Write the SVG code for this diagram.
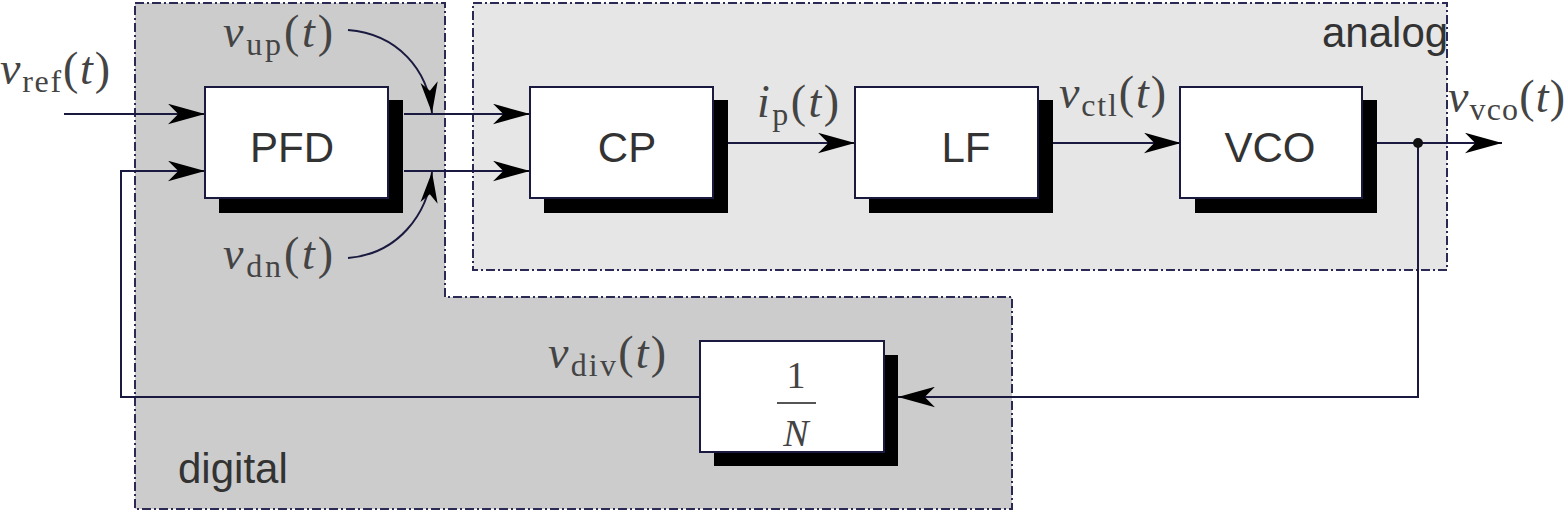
<svg xmlns="http://www.w3.org/2000/svg" width="1568" height="512" viewBox="0 0 1568 512">
<style>
.region{stroke:#2a2a55;stroke-width:2;stroke-dasharray:9 3 2 3}
.box{fill:#fff;stroke:#1a1a40;stroke-width:2}
.shadow{fill:#000}
.lbl{font-family:'Liberation Sans',Arial,sans-serif;font-size:42px;fill:#333;text-anchor:middle}
.reg{font-family:'Liberation Sans',Arial,sans-serif;font-size:42px;fill:#333}
.m{font-family:'Liberation Serif','Times New Roman',Times,serif;font-size:46px;fill:#444}
.i{font-style:italic}
.s{font-size:32px}
.wire{fill:none;stroke:#1a1a40;stroke-width:2}
</style>
<defs>
<marker id="arr" viewBox="0 0 36 20" refX="36" refY="10" markerWidth="37" markerHeight="21" orient="auto" markerUnits="userSpaceOnUse">
<path d="M0,0 L36,10 L0,20 L10,10 Z" fill="#000"/>
</marker>
<marker id="arr2" viewBox="0 0 36 20" refX="36" refY="10" markerWidth="31" markerHeight="18" orient="auto" markerUnits="userSpaceOnUse">
<path d="M0,0 L36,10 L0,20 L10,10 Z" fill="#000"/>
</marker>
</defs>

<g id="digital-region">
<path class="region" d="M135,3 H445 V297 H1012 V509 H135 Z" fill="#cccccc"/>
<text class="reg" x="178" y="483">digital</text>
</g>
<g id="analog-region">
<rect class="region" x="473" y="3" width="974" height="267" fill="#e6e6e6"/>
<text class="reg" x="1322" y="47">analog</text>
</g>

<g id="connectors">
<path class="wire" d="M64,114 H205" marker-end="url(#arr)"/>
<path class="wire" d="M404,114 H530" marker-end="url(#arr)"/>
<path class="wire" d="M404,171 H530" marker-end="url(#arr)"/>
<path class="wire" d="M727,143 H855" marker-end="url(#arr)"/>
<path class="wire" d="M1052,143 H1181" marker-end="url(#arr)"/>
<path class="wire" d="M1376,143 H1502" marker-end="url(#arr)"/>
<path class="wire" d="M1418,143 V397 H898" marker-end="url(#arr)"/>
<path class="wire" d="M700,397 H121 V171 H205" marker-end="url(#arr)"/>
<path class="wire" d="M348,30 C398,34 428,70 432,113" marker-end="url(#arr2)"/>
<path class="wire" d="M348,258 C398,254 428,214 432,172" marker-end="url(#arr2)"/>
<circle cx="1418" cy="143" r="5" fill="#111"/>
</g>

<g id="pfd">
<rect class="shadow" x="219" y="100" width="184" height="113"/>
<rect class="box" x="205" y="87" width="183" height="111"/>
<text class="lbl" x="292" y="162">PFD</text>
</g>
<g id="cp">
<rect class="shadow" x="544" y="100" width="184" height="113"/>
<rect class="box" x="530" y="87" width="183" height="111"/>
<text class="lbl" x="627" y="162">CP</text>
</g>
<g id="lf">
<rect class="shadow" x="869" y="100" width="184" height="113"/>
<rect class="box" x="855" y="87" width="183" height="111"/>
<text class="lbl" x="966" y="162">LF</text>
</g>
<g id="vco">
<rect class="shadow" x="1195" y="100" width="182" height="113"/>
<rect class="box" x="1180" y="87" width="182" height="111"/>
<text class="lbl" x="1270" y="162">VCO</text>
</g>
<g id="divider">
<rect class="shadow" x="714" y="355" width="184" height="111"/>
<rect class="box" x="700" y="341" width="184" height="111"/>
<text class="m" x="796" y="388" text-anchor="middle" style="font-size:38px">1</text>
<line x1="777" y1="403" x2="816" y2="403" stroke="#555" stroke-width="2"/>
<text class="m i" x="796" y="446" text-anchor="middle" style="font-size:38px">N</text>
</g>

<g id="labels">
<text class="m" x="0" y="84" textLength="110"><tspan class="i">v</tspan><tspan class="s" dy="8">ref</tspan><tspan dy="-8">(</tspan><tspan class="i">t</tspan>)</text>
<text class="m" x="223" y="47" textLength="110"><tspan class="i">v</tspan><tspan class="s" dy="8">up</tspan><tspan dy="-8">(</tspan><tspan class="i">t</tspan>)</text>
<text class="m" x="223" y="269" textLength="110"><tspan class="i">v</tspan><tspan class="s" dy="8">dn</tspan><tspan dy="-8">(</tspan><tspan class="i">t</tspan>)</text>
<text class="m" x="757" y="117" textLength="82"><tspan class="i">i</tspan><tspan class="s" dy="8">p</tspan><tspan dy="-8">(</tspan><tspan class="i">t</tspan>)</text>
<text class="m" x="1059" y="108" textLength="107"><tspan class="i">v</tspan><tspan class="s" dy="8">ctl</tspan><tspan dy="-8">(</tspan><tspan class="i">t</tspan>)</text>
<text class="m" x="1448" y="112" textLength="117"><tspan class="i">v</tspan><tspan class="s" dy="8">vco</tspan><tspan dy="-8">(</tspan><tspan class="i">t</tspan>)</text>
<text class="m" x="548" y="368" textLength="118"><tspan class="i">v</tspan><tspan class="s" dy="8">div</tspan><tspan dy="-8">(</tspan><tspan class="i">t</tspan>)</text>
</g>
</svg>
